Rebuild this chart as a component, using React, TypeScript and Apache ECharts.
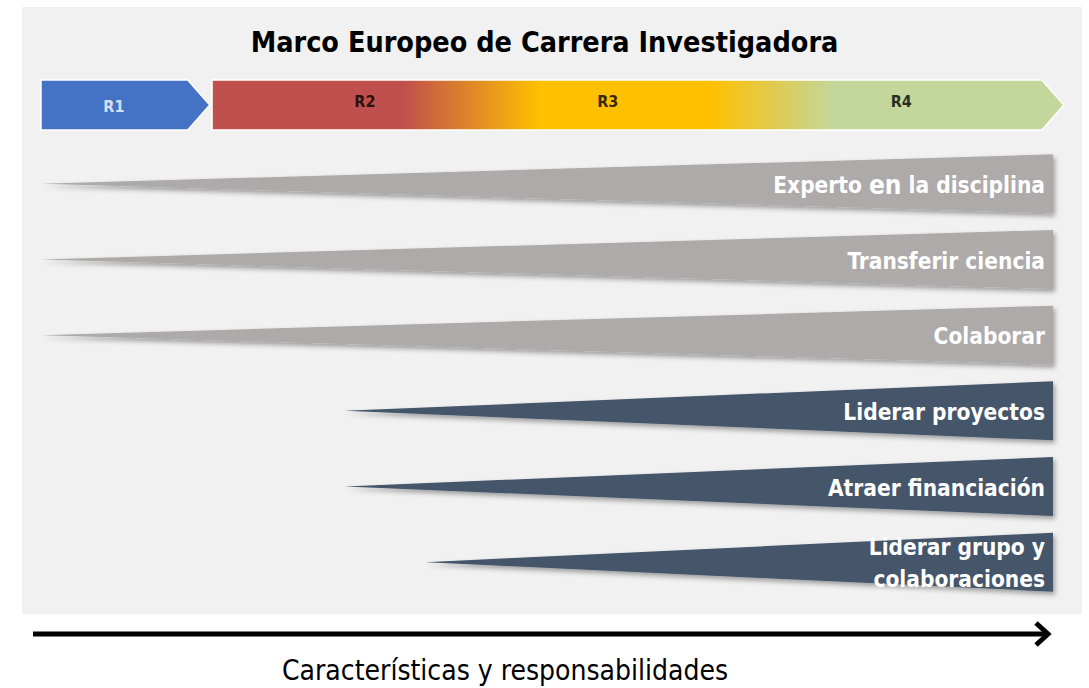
import React, { useEffect, useRef } from 'react';
import * as echarts from 'echarts';

// ---------- data ----------
const chartTitle = 'Marco Europeo de Carrera Investigadora';
const stageNames = ['R1', 'R2', 'R3', 'R4'];
// label positions on the 0..100 career axis
const stageLabelPos = [7.2, 32, 56, 85];
// spans on the career axis: R1 chevron, R2–R4 continuous band
const stageSpanStart = [0, 16.9];
const stageSpanEnd = [14.5, 98.9];

const wedgeLabels = [
  'Experto en la disciplina',
  'Transferir ciencia',
  'Colaborar',
  'Liderar proyectos',
  'Atraer financiación',
  'Liderar grupo y\ncolaboraciones',
];
const wedgeStart = [0, 0, 0, 30, 30, 38];
const wedgeEnd = [100, 100, 100, 100, 100, 100];
const wedgeKind = ['shared', 'shared', 'shared', 'lead', 'lead', 'lead'];
const axisTitle = 'Características y responsabilidades';

// ---------- styles ----------
const FONT = "'Liberation Sans Narrow', 'DejaVu Sans Condensed', sans-serif";
const kindColor: Record<string, string> = { shared: '#AEAAAA', lead: '#44546A' };

export default function App() {
  const ref = useRef<HTMLDivElement>(null);

  useEffect(() => {
    if (!ref.current) return;
    const chart = echarts.init(ref.current, undefined, { renderer: 'svg' });

    const stageData = stageSpanStart.map((s, i) => [s, stageSpanEnd[i], 0]);
    const wedgeData = wedgeLabels.map((l, i) => ({
      value: [wedgeStart[i], wedgeEnd[i], i],
      name: l,
      kind: wedgeKind[i],
    }));

    const option: any = {
      animation: false,
      backgroundColor: '#ffffff',
      title: {
        text: chartTitle,
        left: 'center',
        top: 23,
        textStyle: { fontFamily: FONT, fontWeight: 'bold', fontSize: 28.5, color: '#000' },
      },
      graphic: [
        {
          type: 'rect',
          z: 0,
          shape: { x: 22, y: 7, width: 1060, height: 607 },
          style: { fill: '#F1F1F1' },
        },
        {
          type: 'line',
          z: 1,
          shape: { x1: 33, y1: 634, x2: 1046, y2: 634 },
          style: { stroke: '#000', lineWidth: 5 },
        },
        {
          type: 'polyline',
          z: 1,
          shape: { points: [[1036, 623], [1048, 634], [1036, 645]] },
          style: { stroke: '#000', lineWidth: 5, fill: 'none', lineJoin: 'miter' },
        },
        {
          type: 'text',
          z: 1,
          x: 505,
          y: 670,
          style: {
            text: axisTitle,
            align: 'center',
            verticalAlign: 'middle',
            fontFamily: FONT,
            fontSize: 28,
            fill: '#000',
          },
        },
      ],
      grid: [
        { left: 41, width: 1012, top: 80, height: 50 },
        { left: 41, width: 1012, top: 146, height: 454 },
      ],
      xAxis: [
        { type: 'value', gridIndex: 0, min: 0, max: 100, show: false },
        { type: 'value', gridIndex: 1, min: 0, max: 100, show: false },
      ],
      yAxis: [
        { type: 'category', gridIndex: 0, data: ['etapas'], show: false },
        { type: 'category', gridIndex: 1, data: wedgeLabels, inverse: true, show: false },
      ],
      series: [
        {
          type: 'custom',
          xAxisIndex: 0,
          yAxisIndex: 0,
          encode: { x: [0, 1], y: 2 },
          data: stageData,
          renderItem: (params: any, api: any) => {
            const row = api.value(2);
            const s = api.coord([api.value(0), row]);
            const e = api.coord([api.value(1), row]);
            const h = api.size([0, 1])[1];
            const tip = 22;
            const top = s[1] - h / 2;
            const bot = s[1] + h / 2;
            const pts = [
              [s[0], top],
              [e[0], top],
              [e[0] + tip, s[1]],
              [e[0], bot],
              [s[0], bot],
            ];
            const fill =
              params.dataIndex === 0
                ? '#4472C4'
                : new echarts.graphic.LinearGradient(0, 0, 1, 0, [
                    { offset: 0, color: '#C0504D' },
                    { offset: 0.225, color: '#C0504D' },
                    { offset: 0.385, color: '#FFC000' },
                    { offset: 0.585, color: '#FFC000' },
                    { offset: 0.73, color: '#C3D69B' },
                    { offset: 1, color: '#C3D69B' },
                  ]);
            return {
              type: 'polygon',
              shape: { points: pts },
              style: { fill, stroke: '#ffffff', lineWidth: 1.5 },
            };
          },
          z: 2,
        },
        {
          type: 'scatter',
          xAxisIndex: 0,
          yAxisIndex: 0,
          symbolSize: 1,
          itemStyle: { color: 'rgba(0,0,0,0)' },
          data: stageNames.map((n, i) => ({
            name: n,
            value: [stageLabelPos[i], 0],
            label: i === 0 ? { color: '#ffffff', offset: [0, 1] } : { color: '#000000', offset: [0, -4] },
          })),
          label: {
            show: true,
            position: 'inside',
            formatter: '{b}',
            fontFamily: FONT,
            fontWeight: 'bold',
            fontSize: 16,
          },
          z: 3,
        },
        {
          type: 'custom',
          xAxisIndex: 1,
          yAxisIndex: 1,
          encode: { x: [0, 1], y: 2 },
          data: wedgeData,
          renderItem: (params: any, api: any) => {
            const row = api.value(2);
            const p0 = api.coord([api.value(0), row]);
            const p1 = api.coord([api.value(1), row]);
            const band = api.size([0, 1])[1];
            const half = band * 0.39;
            const item = wedgeData[params.dataIndex];
            const label = item.name.replace(' en ', ' {big|en} ');
            return {
              type: 'group',
              children: [
                {
                  type: 'polygon',
                  shape: {
                    points: [
                      [p0[0], p0[1]],
                      [p1[0], p1[1] - half],
                      [p1[0], p1[1] + half],
                    ],
                  },
                  style: {
                    fill: kindColor[item.kind],
                    shadowBlur: 5,
                    shadowOffsetX: 2,
                    shadowOffsetY: 3,
                    shadowColor: 'rgba(0,0,0,0.35)',
                  },
                },
                {
                  type: 'text',
                  x: p1[0] - 8,
                  y: p1[1] + 1,
                  style: {
                    text: label,
                    align: 'right',
                    verticalAlign: 'middle',
                    fill: '#ffffff',
                    fontFamily: FONT,
                    fontWeight: 'bold',
                    fontSize: 22.5,
                    lineHeight: 32,
                    rich: {
                      big: { fontSize: 26, fontFamily: FONT, fontWeight: 'bold', fill: '#ffffff' },
                    },
                  },
                },
              ],
            };
          },
          z: 2,
        },
      ],
    };

    chart.setOption(option);
    return () => chart.dispose();
  }, []);

  return (
    <div
      ref={ref}
      style={{ position: 'fixed', left: 0, top: 0, width: 1089, height: 688, background: '#fff' }}
    />
  );
}
